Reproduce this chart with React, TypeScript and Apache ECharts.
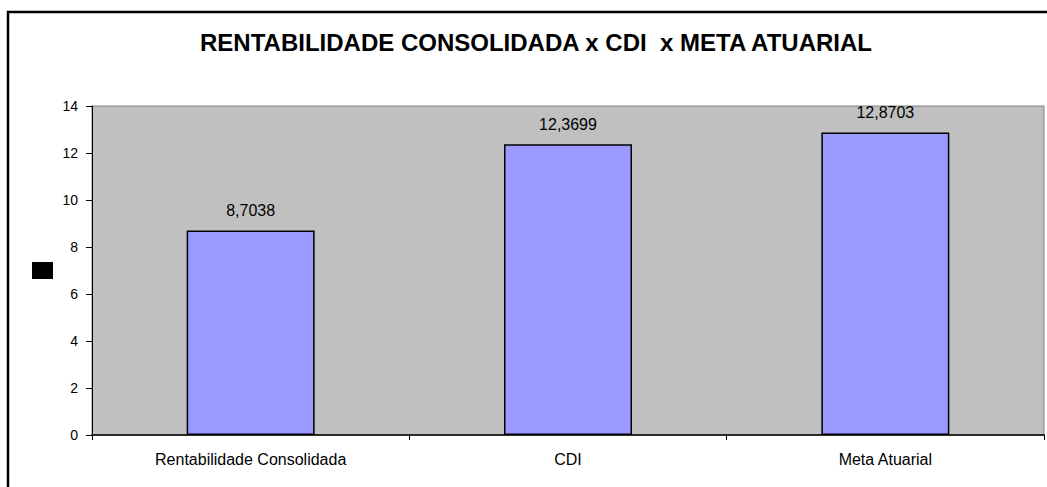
import React, { useEffect, useRef } from "react";
import * as echarts from "echarts";

const categories = ["Rentabilidade Consolidada", "CDI", "Meta Atuarial"];
const values = [8.7038, 12.3699, 12.8703];
const valueLabels = ["8,7038", "12,3699", "12,8703"];
const yTicks = { min: 0, max: 14, interval: 2 };
const titleText = "RENTABILIDADE CONSOLIDADA x CDI\u00a0 x META ATUARIAL";

const FONT = "'Liberation Sans', Arial, sans-serif";

export default function App() {
  const ref = useRef<HTMLDivElement>(null);
  useEffect(() => {
    if (!ref.current) return;
    const chart = echarts.init(ref.current, null, { renderer: "svg" });
    chart.setOption({
      animation: false,
      backgroundColor: "#ffffff",
      textStyle: { fontFamily: FONT },
      graphic: [
        {
          type: "rect",
          shape: { x: 8, y: 12, width: 1200, height: 600 },
          style: { fill: "none", stroke: "#000", lineWidth: 2.5 },
          silent: true,
          z: 100,
        },
        {
          type: "text",
          x: 536,
          y: 42,
          style: {
            text: titleText,
            font: "bold 24px " + FONT,
            fill: "#000",
            textAlign: "center",
            textVerticalAlign: "middle",
          },
        },
        {
          type: "rect",
          shape: { x: 32, y: 262, width: 21, height: 17 },
          style: { fill: "#000" },
        },
      ],
      grid: {
        left: 92,
        top: 106,
        right: 3,
        bottom: 52,
        show: true,
        backgroundColor: "#C0C0C0",
        borderColor: "#808080",
        borderWidth: 1,
      },
      xAxis: {
        type: "category",
        data: categories,
        axisLine: { lineStyle: { color: "#000", width: 1.5 } },
        axisTick: { show: true, length: 5, lineStyle: { color: "#000" } },
        axisLabel: { color: "#000", fontSize: 16, margin: 16, fontFamily: FONT },
      },
      yAxis: {
        type: "value",
        min: yTicks.min,
        max: yTicks.max,
        interval: yTicks.interval,
        splitLine: { show: false },
        axisLine: { show: true, lineStyle: { color: "#000", width: 1 } },
        axisTick: { show: true, length: 6, lineStyle: { color: "#000" } },
        axisLabel: { color: "#000", fontSize: 14, margin: 14, fontFamily: FONT },
      },
      series: [
        {
          type: "bar",
          data: values,
          barWidth: 128,
          itemStyle: { color: "#9999FF", borderColor: "#000", borderWidth: 1.5 },
          label: {
            show: true,
            position: "top",
            distance: 12,
            color: "#000",
            fontSize: 16,
            fontFamily: FONT,
            formatter: (p: any) => valueLabels[p.dataIndex],
          },
        },
      ],
    });
    return () => chart.dispose();
  }, []);
  return (
    <div
      ref={ref}
      style={{ position: "absolute", left: 0, top: 0, width: 1047, height: 487 }}
    />
  );
}
